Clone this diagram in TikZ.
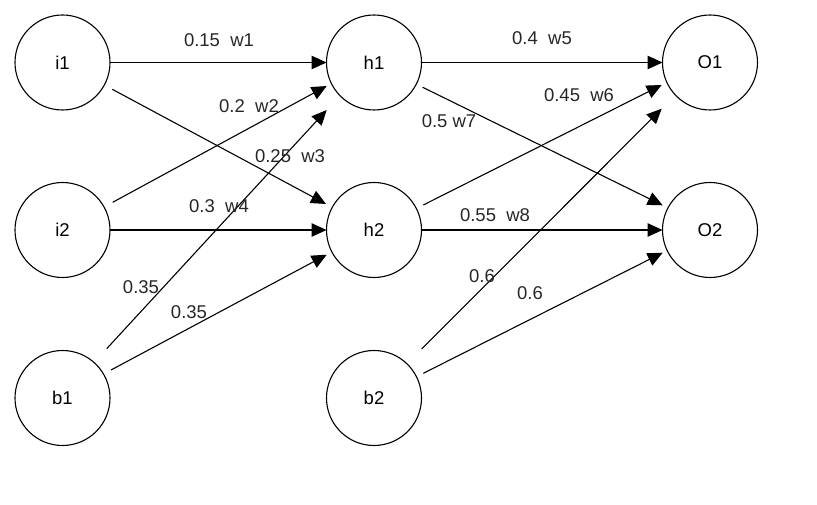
\documentclass[tikz,border=0pt]{standalone}
\usepackage{fontspec}
\setmainfont{Liberation Sans}
\usetikzlibrary{arrows.meta,calc}
\begin{document}
\begin{tikzpicture}[x=1pt,y=-1pt,
  neuron/.style={circle,draw=black,line width=1.1pt,minimum size=95pt,inner sep=0pt,outer sep=0pt,font=\fontsize{18.5}{22}\selectfont},
  arr/.style={line width=1.1pt,-{Triangle[length=15pt,width=13.5pt]}},
  wlab/.style={anchor=base,inner sep=0pt,font=\fontsize{18.5}{22}\selectfont,text=black!85}]
\useasboundingbox (0,0) rectangle (817,505);
\node[neuron] (i1) at (62.5,62.5) {i1};
\node[neuron] (i2) at (62.5,230) {i2};
\node[neuron] (b1) at (62.5,398) {b1};
\node[neuron] (h1) at (374,62.5) {h1};
\node[neuron] (h2) at (374,230) {h2};
\node[neuron] (b2) at (374,398) {b2};
\node[neuron] (O1) at (710,62.5) {O1};
\node[neuron] (O2) at (710,230) {O2};
% input -> hidden
\draw[arr] (i1.east) -- (h1.west);
\draw[arr] ($(i1)+(49.8,26.8)$) -- ($(h2)+(-48,-26)$);
\draw[arr] ($(i2)+(50.2,-27.7)$) -- ($(h1)+(-47.3,23.5)$);
\draw[arr] (i2.east) -- (h2.west);
\draw[arr] ($(b1)+(44.2,-49.3)$) -- ($(h1)+(-47.3,47.5)$);
\draw[arr] ($(b1)+(48.5,-28)$) -- ($(h2)+(-47.3,24.7)$);
% hidden -> output
\draw[arr] (h1.east) -- (O1.west);
\draw[arr] ($(h1)+(48.7,24.8)$) -- ($(O2)+(-47.3,-24.7)$);
\draw[arr] ($(h2)+(49.3,-25)$) -- ($(O1)+(-48.3,22.5)$);
\draw[arr] (h2.east) -- (O2.west);
\draw[arr] ($(b2)+(47.7,-49)$) -- ($(O1)+(-48.3,46.2)$);
\draw[arr] ($(b2)+(49.3,-24.7)$) -- ($(O2)+(-47.3,22.7)$);
% labels
\node[wlab] (l1) at (219,47) {0.15\ \ w1};
\node[wlab] (l2) at (249,113) {0.2\ \ w2};
\node[wlab] (l3) at (290,163) {0.25\ \ w3};
\node[wlab] (l4) at (219,213) {0.3\ \ w4};
\node[wlab] (l5) at (141,294) {0.35};
\node[wlab] (l6) at (189,319) {0.35};
\node[wlab] (l7) at (542,45) {0.4\ \ w5};
\node[wlab] (l8) at (579,102) {0.45\ \ w6};
\node[wlab] (l9) at (449,128) {0.5 w7};
\node[wlab] (l10) at (495,222) {0.55\ \ w8};
\node[wlab] (l11) at (482,283) {0.6};
\node[wlab] (l12) at (530,300) {0.6};
\end{tikzpicture}
\end{document}
